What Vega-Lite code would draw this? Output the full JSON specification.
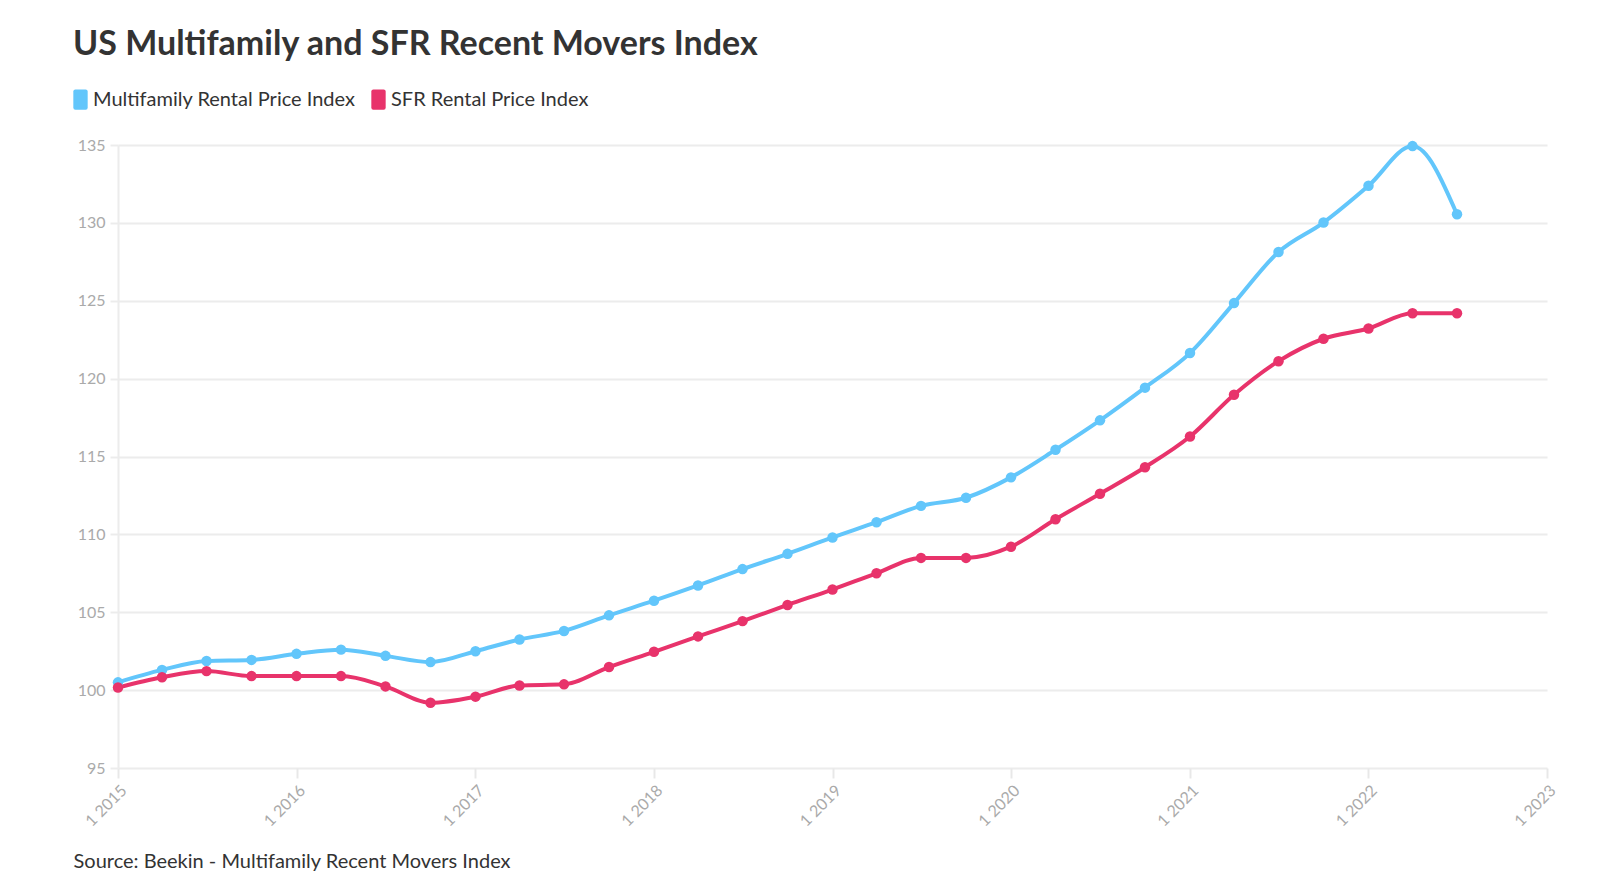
{
  "$schema": "https://vega.github.io/schema/vega-lite/v6.json",
  "width": 1429,
  "height": 623,
  "autosize": {"type": "none"},
  "padding": {"left": 118, "top": 145, "right": 53, "bottom": 127},
  "background": "white",
  "title": {
    "text": "US Multifamily and SFR Recent Movers Index",
    "anchor": "start",
    "frame": "group",
    "dx": -45,
    "offset": 27,
    "font": "Lato",
    "fontSize": 34,
    "fontWeight": "bold",
    "color": "#333333"
  },
  "config": {
    "view": {"stroke": null},
    "font": "Lato"
  },
  "datasets": {
    "rows": [
      {"date": "2015-01-01", "m": 100.5, "s": 100.17},
      {"date": "2015-04-01", "m": 101.3, "s": 100.83},
      {"date": "2015-07-01", "m": 101.87, "s": 101.22},
      {"date": "2015-10-01", "m": 101.94, "s": 100.9},
      {"date": "2016-01-01", "m": 102.33, "s": 100.9},
      {"date": "2016-04-01", "m": 102.6, "s": 100.9},
      {"date": "2016-07-01", "m": 102.2, "s": 100.24},
      {"date": "2016-10-01", "m": 101.8, "s": 99.19},
      {"date": "2017-01-01", "m": 102.5, "s": 99.58},
      {"date": "2017-04-01", "m": 103.25, "s": 100.3},
      {"date": "2017-07-01", "m": 103.8, "s": 100.37},
      {"date": "2017-10-01", "m": 104.8, "s": 101.48},
      {"date": "2018-01-01", "m": 105.74, "s": 102.46},
      {"date": "2018-04-01", "m": 106.72, "s": 103.45},
      {"date": "2018-07-01", "m": 107.77, "s": 104.43},
      {"date": "2018-10-01", "m": 108.75, "s": 105.47},
      {"date": "2019-01-01", "m": 109.8, "s": 106.46},
      {"date": "2019-04-01", "m": 110.78, "s": 107.5},
      {"date": "2019-07-01", "m": 111.83, "s": 108.49},
      {"date": "2019-10-01", "m": 112.35, "s": 108.49},
      {"date": "2020-01-01", "m": 113.66, "s": 109.21},
      {"date": "2020-04-01", "m": 115.43, "s": 110.97},
      {"date": "2020-07-01", "m": 117.32, "s": 112.61},
      {"date": "2020-10-01", "m": 119.42, "s": 114.31},
      {"date": "2021-01-01", "m": 121.64, "s": 116.28},
      {"date": "2021-04-01", "m": 124.85, "s": 118.96},
      {"date": "2021-07-01", "m": 128.13, "s": 121.12},
      {"date": "2021-10-01", "m": 130.02, "s": 122.56},
      {"date": "2022-01-01", "m": 132.38, "s": 123.22},
      {"date": "2022-04-01", "m": 134.93, "s": 124.2},
      {"date": "2022-07-01", "m": 130.55, "s": 124.2}
    ]
  },
  "data": {"name": "rows"},
  "transform": [
    {"fold": ["m", "s"], "as": ["key", "value"]},
    {"lookup": "key", "from": {"data": {"values": [
      {"key": "m", "series": "Multifamily Rental Price Index"},
      {"key": "s", "series": "SFR Rental Price Index"}
    ]}, "key": "key", "fields": ["series"]}}
  ],
  "encoding": {
    "x": {
      "field": "date",
      "type": "temporal",
      "scale": {"type": "utc", "domain": ["2015-01-01", "2023-01-01"]},
      "axis": {
        "values": [
          {"year": 2015, "month": 1, "date": 1, "utc": true},
          {"year": 2016, "month": 1, "date": 1, "utc": true},
          {"year": 2017, "month": 1, "date": 1, "utc": true},
          {"year": 2018, "month": 1, "date": 1, "utc": true},
          {"year": 2019, "month": 1, "date": 1, "utc": true},
          {"year": 2020, "month": 1, "date": 1, "utc": true},
          {"year": 2021, "month": 1, "date": 1, "utc": true},
          {"year": 2022, "month": 1, "date": 1, "utc": true},
          {"year": 2023, "month": 1, "date": 1, "utc": true}
        ],
        "labelExpr": "'1 ' + utcFormat(datum.value, '%Y')",
        "grid": false,
        "domain": false,
        "ticks": true,
        "tickSize": 10,
        "tickColor": "#e8e8e8",
        "tickWidth": 2,
        "labelAngle": 315,
        "labelAlign": "right",
        "labelBaseline": "top",
        "labelColor": "#aaaaaa",
        "labelFontSize": 16,
        "labelPadding": 4,
        "labelFlush": false,
        "labelOverlap": false,
        "title": "Source: Beekin - Multifamily Recent Movers Index",
        "titleAnchor": "start",
        "titleAlign": "left",
        "titleBaseline": "alphabetic",
        "titleX": -45,
        "titleY": 99,
        "titleFontSize": 20,
        "titleFontWeight": "normal",
        "titleColor": "#333333"
      }
    },
    "y": {
      "field": "value",
      "type": "quantitative",
      "scale": {"domain": [95, 135], "nice": false, "zero": false},
      "axis": {
        "values": [95, 100, 105, 110, 115, 120, 125, 130, 135],
        "title": null,
        "grid": true,
        "gridColor": "#ececec",
        "gridWidth": 2,
        "domain": true,
        "domainColor": "#ececec",
        "domainWidth": 2,
        "tickSize": 8,
        "tickColor": "#ececec",
        "tickWidth": 2,
        "labelColor": "#aaaaaa",
        "labelFontSize": 16,
        "labelPadding": 5
      }
    },
    "color": {
      "field": "series",
      "type": "nominal",
      "scale": {
        "domain": ["Multifamily Rental Price Index", "SFR Rental Price Index"],
        "range": ["#62c6fb", "#e8336b"]
      },
      "legend": {
        "orient": "none",
        "legendX": -48,
        "legendY": -56,
        "direction": "horizontal",
        "title": null,
        "symbolType": "M -0.7 -0.8 Q -0.7 -1 -0.5 -1 H 0.5 Q 0.7 -1 0.7 -0.8 V 0.8 Q 0.7 1 0.5 1 H -0.5 Q -0.7 1 -0.7 0.8 Z",
        "symbolSize": 420,
        "symbolStrokeWidth": 0,
        "symbolOpacity": 1,
        "labelFontSize": 20,
        "labelColor": "#333333",
        "labelOffset": 2,
        "columnPadding": 12,
        "labelLimit": 400,
        "encode": {
          "symbols": {
            "update": {
              "fill": {"scale": "color", "field": "value"},
              "stroke": {"value": "transparent"},
              "opacity": {"value": 1}
            }
          }
        }
      }
    }
  },
  "layer": [
    {
      "mark": {"type": "line", "interpolate": "monotone", "strokeWidth": 4}
    },
    {
      "mark": {"type": "point", "filled": true, "size": 110, "opacity": 1}
    }
  ]
}
